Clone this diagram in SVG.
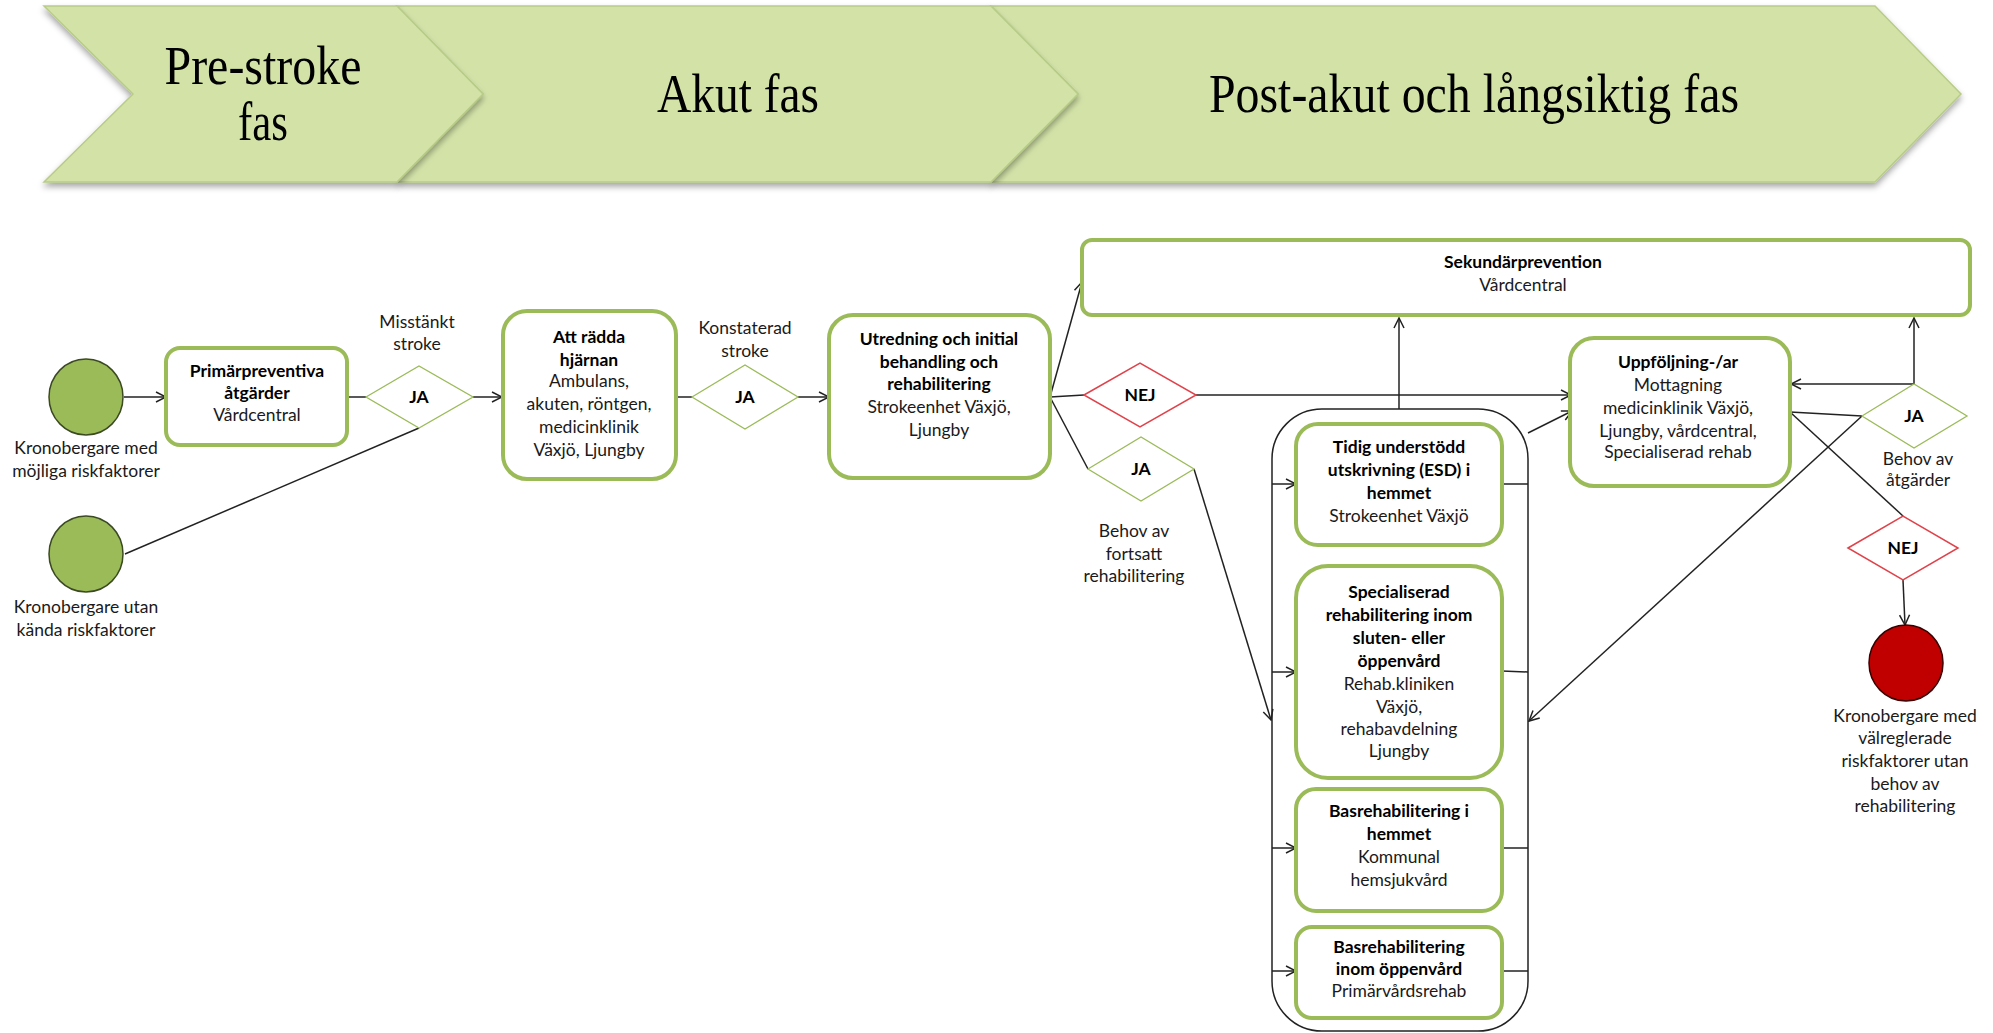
<svg xmlns="http://www.w3.org/2000/svg" width="1993" height="1033" viewBox="0 0 1993 1033">
<defs>
<style>
.ban{fill:#d3e3a8;stroke:#b8cc88;stroke-width:1.5;filter:url(#sh)}
.bt{font-family:"Liberation Serif","Times New Roman",serif;font-size:54px;fill:#000;text-anchor:middle}
.box{fill:#fff;stroke:#9bbb59;stroke-width:4}
.t{font-family:Lato,"Liberation Sans",sans-serif;font-size:17.5px;fill:#1a1a1a;text-anchor:middle}
.b{font-weight:bold;fill:#000}
.dg{fill:#fff;stroke:#9bbb59;stroke-width:1.3}
.dr{fill:#fff;stroke:#e0424a;stroke-width:1.5}
.c{fill:none;stroke:#222;stroke-width:1.5}
.a{marker-end:url(#ar)}
</style>
<marker id="ar" viewBox="0 0 12 12" refX="11" refY="6" markerWidth="12" markerHeight="12" markerUnits="userSpaceOnUse" orient="auto">
<path d="M1,1 L11,6 L1,11" fill="none" stroke="#222" stroke-width="1.5"/>
</marker>
<filter id="sh" x="-5%" y="-10%" width="110%" height="130%">
<feDropShadow dx="0" dy="4" stdDeviation="3" flood-color="#000" flood-opacity="0.35"/>
</filter>
</defs>
<rect width="1993" height="1033" fill="#fff"/>

<g id="phase-post">
<polygon class="ban" points="991,6 1875,6 1961,94 1875,182 991,182 1078,94"/>
<text class="bt" x="1474" y="112" textLength="530" lengthAdjust="spacingAndGlyphs">Post-akut och långsiktig fas</text>
</g>
<g id="phase-akut">
<polygon class="ban" points="397,6 991,6 1078,94 991,182 397,182 483,94"/>
<text class="bt" x="738" y="112" textLength="162" lengthAdjust="spacingAndGlyphs">Akut fas</text>
</g>
<g id="phase-pre">
<polygon class="ban" points="44,6 397,6 483,94 397,182 44,182 133,94"/>
<text class="bt" x="263" y="84" textLength="197" lengthAdjust="spacingAndGlyphs">Pre-stroke</text>
<text class="bt" x="263" y="140" textLength="50" lengthAdjust="spacingAndGlyphs">fas</text>
</g>

<g id="connectors">
<line class="c a" x1="124" y1="397" x2="166" y2="397"/>
<line class="c" x1="347" y1="397" x2="366" y2="397"/>
<line class="c a" x1="473" y1="397" x2="502" y2="397"/>
<line class="c" x1="125" y1="554" x2="419" y2="428"/>
<line class="c" x1="676" y1="397" x2="692" y2="397"/>
<line class="c a" x1="798" y1="397" x2="829" y2="397"/>
<line class="c a" x1="1050" y1="397" x2="1082" y2="282"/>
<line class="c" x1="1050" y1="397" x2="1084" y2="395"/>
<line class="c" x1="1050" y1="397" x2="1088" y2="469"/>
<line class="c a" x1="1196" y1="395" x2="1571" y2="395"/>
<line class="c a" x1="1194" y1="469" x2="1271" y2="720"/>
<line class="c a" x1="1399" y1="409" x2="1399" y2="318"/>
<line class="c a" x1="1272" y1="484" x2="1296" y2="484"/>
<line class="c a" x1="1272" y1="672" x2="1296" y2="672"/>
<line class="c a" x1="1272" y1="848" x2="1296" y2="848"/>
<line class="c a" x1="1272" y1="971" x2="1296" y2="971"/>
<line class="c" x1="1502" y1="484" x2="1528" y2="484"/>
<line class="c" x1="1502" y1="671" x2="1528" y2="672"/>
<line class="c" x1="1502" y1="848" x2="1528" y2="848"/>
<line class="c" x1="1502" y1="971" x2="1528" y2="971"/>
<line class="c a" x1="1528" y1="433" x2="1572" y2="411"/>
<line class="c a" x1="1914" y1="384" x2="1914" y2="318"/>
<line class="c a" x1="1914" y1="384" x2="1791" y2="384"/>
<line class="c" x1="1790" y1="412" x2="1862" y2="416"/>
<line class="c" x1="1790" y1="412" x2="1903" y2="516"/>
<line class="c a" x1="1862" y1="416" x2="1529" y2="721"/>
<line class="c a" x1="1903" y1="580" x2="1905" y2="625"/>
</g>

<g id="start-med">
<ellipse cx="86" cy="397" rx="37" ry="38" fill="#9bbb59" stroke="#3b4a22" stroke-width="1.5"/>
<text class="t" x="86" y="454">Kronobergare med</text>
<text class="t" x="86" y="477">möjliga riskfaktorer</text>
</g>
<g id="start-utan">
<ellipse cx="86" cy="554" rx="37" ry="38" fill="#9bbb59" stroke="#3b4a22" stroke-width="1.5"/>
<text class="t" x="86" y="613">Kronobergare utan</text>
<text class="t" x="86" y="636">kända riskfaktorer</text>
</g>
<g id="primarprev">
<rect class="box" x="166" y="348" width="181" height="97" rx="14"/>
<text class="t b" x="257" y="377">Primärpreventiva</text>
<text class="t b" x="257" y="399">åtgärder</text>
<text class="t" x="257" y="421">Vårdcentral</text>
</g>
<g id="dec-misstankt">
<polygon class="dg" points="366,397 419,366 473,397 419,428"/>
<text class="t b" x="419" y="403">JA</text>
<text class="t" x="417" y="328">Misstänkt</text>
<text class="t" x="417" y="350">stroke</text>
</g>
<g id="radda">
<rect class="box" x="503" y="311" width="173" height="168" rx="24"/>
<text class="t b" x="589" y="343">Att rädda</text>
<text class="t b" x="589" y="366">hjärnan</text>
<text class="t" x="589" y="387">Ambulans,</text>
<text class="t" x="589" y="410">akuten, röntgen,</text>
<text class="t" x="589" y="433">medicinklinik</text>
<text class="t" x="589" y="456">Växjö, Ljungby</text>
</g>
<g id="dec-konstaterad">
<polygon class="dg" points="692,397 745,365 798,397 745,429"/>
<text class="t b" x="745" y="403">JA</text>
<text class="t" x="745" y="334">Konstaterad</text>
<text class="t" x="745" y="357">stroke</text>
</g>
<g id="utredning">
<rect class="box" x="829" y="315" width="221" height="163" rx="24"/>
<text class="t b" x="939" y="345">Utredning och initial</text>
<text class="t b" x="939" y="368">behandling och</text>
<text class="t b" x="939" y="390">rehabilitering</text>
<text class="t" x="939" y="413">Strokeenhet Växjö,</text>
<text class="t" x="939" y="436">Ljungby</text>
</g>
<g id="sekundar">
<rect class="box" x="1082" y="240" width="888" height="75" rx="10"/>
<text class="t b" x="1523" y="268">Sekundärprevention</text>
<text class="t" x="1523" y="291">Vårdcentral</text>
</g>
<g id="dec-nej1">
<polygon class="dr" points="1084,395 1140,363 1196,395 1140,427"/>
<text class="t b" x="1140" y="401">NEJ</text>
</g>
<g id="dec-ja3">
<polygon class="dg" points="1088,469 1141,437 1194,469 1141,501"/>
<text class="t b" x="1141" y="475">JA</text>
<text class="t" x="1134" y="537">Behov av</text>
<text class="t" x="1134" y="560">fortsatt</text>
<text class="t" x="1134" y="582">rehabilitering</text>
</g>
<g id="rehab-container">
<rect x="1272" y="409" width="256" height="622" rx="50" fill="none" stroke="#222" stroke-width="1.5"/>
</g>
<g id="esd">
<rect class="box" x="1296" y="424" width="206" height="121" rx="22"/>
<text class="t b" x="1399" y="453">Tidig understödd</text>
<text class="t b" x="1399" y="476">utskrivning (ESD) i</text>
<text class="t b" x="1399" y="499">hemmet</text>
<text class="t" x="1399" y="522">Strokeenhet Växjö</text>
</g>
<g id="specialiserad">
<rect class="box" x="1296" y="566" width="206" height="212" rx="32"/>
<text class="t b" x="1399" y="598">Specialiserad</text>
<text class="t b" x="1399" y="621">rehabilitering inom</text>
<text class="t b" x="1399" y="644">sluten- eller</text>
<text class="t b" x="1399" y="667">öppenvård</text>
<text class="t" x="1399" y="690">Rehab.kliniken</text>
<text class="t" x="1399" y="713">Växjö,</text>
<text class="t" x="1399" y="735">rehabavdelning</text>
<text class="t" x="1399" y="757">Ljungby</text>
</g>
<g id="bas-hemmet">
<rect class="box" x="1296" y="789" width="206" height="122" rx="20"/>
<text class="t b" x="1399" y="817">Basrehabilitering i</text>
<text class="t b" x="1399" y="840">hemmet</text>
<text class="t" x="1399" y="863">Kommunal</text>
<text class="t" x="1399" y="886">hemsjukvård</text>
</g>
<g id="bas-oppenvard">
<rect class="box" x="1296" y="927" width="206" height="91" rx="16"/>
<text class="t b" x="1399" y="953">Basrehabilitering</text>
<text class="t b" x="1399" y="975">inom öppenvård</text>
<text class="t" x="1399" y="997">Primärvårdsrehab</text>
</g>
<g id="uppfoljning">
<rect class="box" x="1570" y="338" width="220" height="148" rx="24"/>
<text class="t b" x="1678" y="368">Uppföljning-/ar</text>
<text class="t" x="1678" y="391">Mottagning</text>
<text class="t" x="1678" y="414">medicinklinik Växjö,</text>
<text class="t" x="1678" y="437">Ljungby, vårdcentral,</text>
<text class="t" x="1678" y="458">Specialiserad rehab</text>
</g>
<g id="dec-ja4">
<polygon class="dg" points="1862,416 1914,384 1967,416 1914,448"/>
<text class="t b" x="1914" y="422">JA</text>
<text class="t" x="1918" y="465">Behov av</text>
<text class="t" x="1918" y="486">åtgärder</text>
</g>
<g id="dec-nej2">
<polygon class="dr" points="1848,548 1903,516 1958,548 1903,580"/>
<text class="t b" x="1903" y="554">NEJ</text>
</g>
<g id="end-valreglerade">
<ellipse cx="1906" cy="663" rx="37" ry="38" fill="#c00000" stroke="#3a0000" stroke-width="1.5"/>
<text class="t" x="1905" y="722">Kronobergare med</text>
<text class="t" x="1905" y="744">välreglerade</text>
<text class="t" x="1905" y="767">riskfaktorer utan</text>
<text class="t" x="1905" y="790">behov av</text>
<text class="t" x="1905" y="812">rehabilitering</text>
</g>
</svg>
